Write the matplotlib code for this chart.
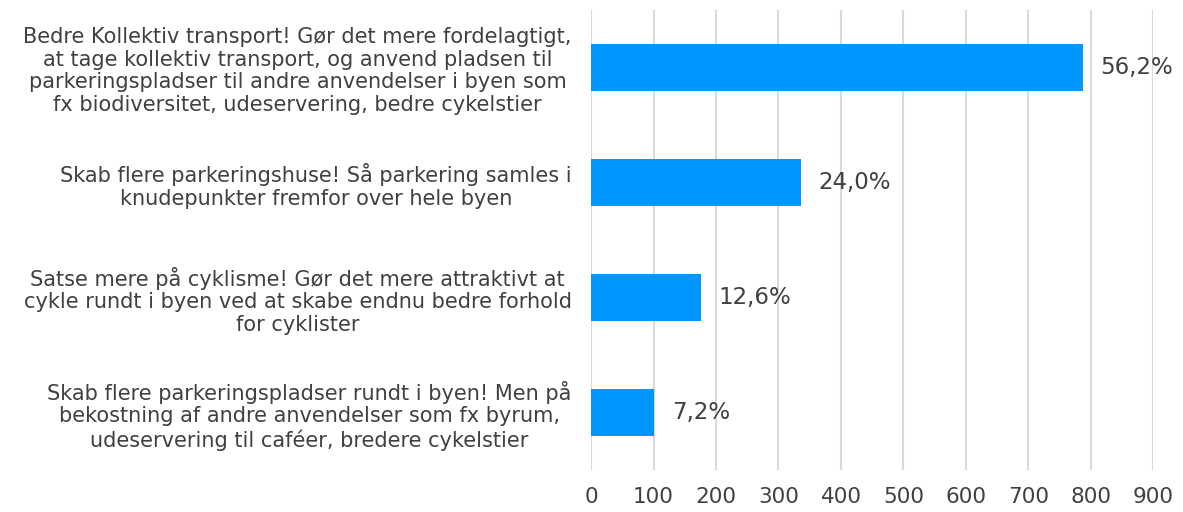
import matplotlib.pyplot as plt

# Svar (antal) og procentandele
categories = [
    "Bedre Kollektiv transport! Gør det mere fordelagtigt,\nat tage kollektiv transport, og anvend pladsen til\nparkeringspladser til andre anvendelser i byen som\nfx biodiversitet, udeservering, bedre cykelstier",
    "Skab flere parkeringshuse! Så parkering samles i\nknudepunkter fremfor over hele byen",
    "Satse mere på cyklisme! Gør det mere attraktivt at\ncykle rundt i byen ved at skabe endnu bedre forhold\nfor cyklister",
    "Skab flere parkeringspladser rundt i byen! Men på\nbekostning af andre anvendelser som fx byrum,\nudeservering til caféer, bredere cykelstier",
]
counts = [787, 336, 176, 101]
labels = ["56,2%", "24,0%", "12,6%", "7,2%"]
ticks = [0, 100, 200, 300, 400, 500, 600, 700, 800, 900]

plt.rcParams['font.family'] = ['DejaVu Sans']
text_color = '#404040'

fig = plt.figure(figsize=(11.83, 5.12), dpi=100)
ax = fig.add_axes([0.4996, 0.082, 0.4754, 0.898])

ypos = list(range(len(categories)))
ax.barh(ypos, counts, height=0.41, color='#0096FF', zorder=3)

for y, c, lab in zip(ypos, counts, labels):
    ax.text(c + 28, y, lab, va='center', ha='left', fontsize=16.5, color=text_color, zorder=4)

ax.set_xlim(0, 900)
ax.set_ylim(len(categories) - 0.5, -0.5)
ax.set_xticks(ticks)
ax.set_xticklabels([str(t) for t in ticks], fontsize=15.5, color=text_color)
ax.set_yticks(ypos)
ax.set_yticklabels(categories, fontsize=15, color=text_color,
                   multialignment='center', linespacing=1.15)
ax.tick_params(axis='both', length=0)
ax.tick_params(axis='y', pad=14)
ax.tick_params(axis='x', pad=12)

ax.grid(axis='x', color='#d9d9d9', linewidth=1.5, zorder=0)
for s in ax.spines.values():
    s.set_visible(False)

fig.savefig('out.png', dpi=100)
